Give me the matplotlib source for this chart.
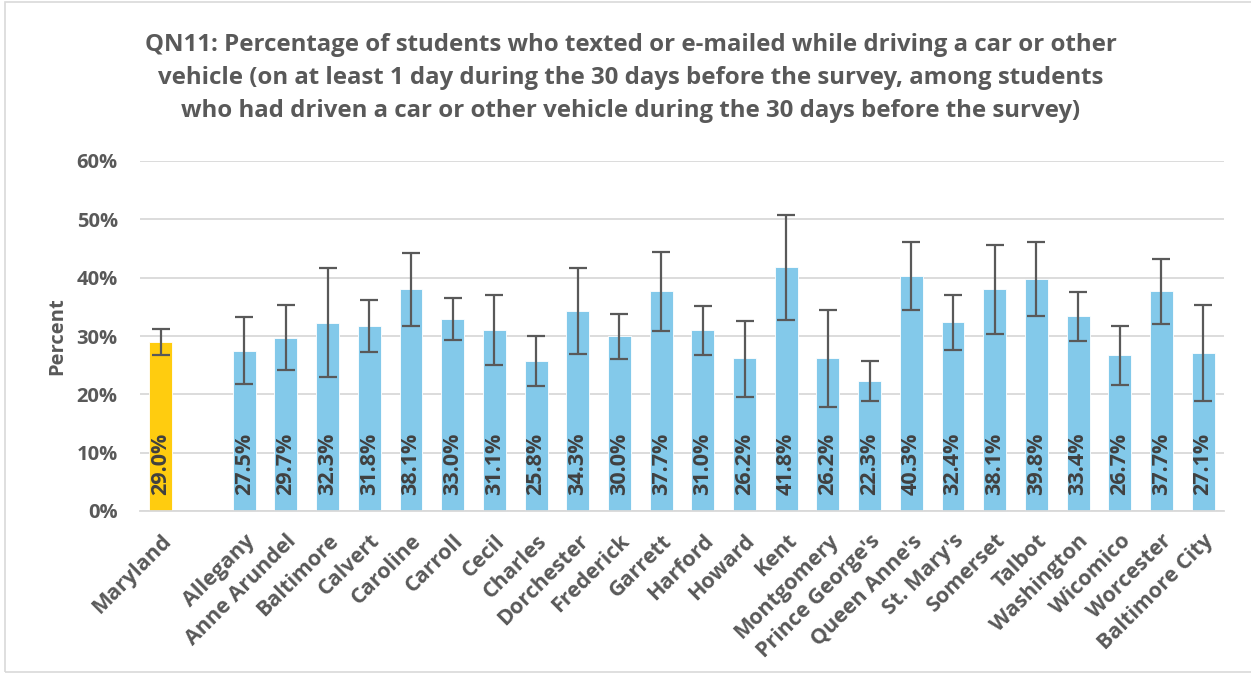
import numpy as np
import matplotlib
matplotlib.use("Agg")
from matplotlib import pyplot as plt
from matplotlib.patches import Rectangle

# data
areas = ["Maryland", "", "Allegany", "Anne Arundel", "Baltimore", "Calvert", "Caroline",
         "Carroll", "Cecil", "Charles", "Dorchester", "Frederick", "Garrett", "Harford",
         "Howard", "Kent", "Montgomery", "Prince George's", "Queen Anne's", "St. Mary's",
         "Somerset", "Talbot", "Washington", "Wicomico", "Worcester", "Baltimore City"]
pct = [29.0, np.nan, 27.5, 29.7, 32.3, 31.8, 38.1, 33.0, 31.1, 25.8, 34.3, 30.0, 37.7,
       31.0, 26.2, 41.8, 26.2, 22.3, 40.3, 32.4, 38.1, 39.8, 33.4, 26.7, 37.7, 27.1]
ci_low = [26.8, np.nan, 21.7, 24.1, 22.9, 27.3, 31.8, 29.4, 25.0, 21.4, 26.9, 26.1, 30.9,
          26.7, 19.6, 32.8, 17.8, 18.9, 34.4, 27.6, 30.4, 33.4, 29.2, 21.6, 32.1, 18.9]
ci_high = [31.2, np.nan, 33.2, 35.3, 41.7, 36.2, 44.3, 36.5, 37.0, 30.0, 41.6, 33.8, 44.4,
           35.2, 32.6, 50.7, 34.4, 25.7, 46.1, 37.1, 45.6, 46.2, 37.6, 31.7, 43.2, 35.3]
title_lines = ["QN11: Percentage of students who texted or e-mailed while driving a car or other",
               "vehicle (on at least 1 day during the 30 days before the survey, among students",
               "who had driven a car or other vehicle during the 30 days before the survey)"]

FONT = "Open Sans"
GREY = "#595959"

fig = plt.figure(figsize=(12.51, 6.74), dpi=100)
ax = fig.add_axes([140 / 1251, 1 - 511 / 674, 1084 / 1251, 350 / 674])

x = np.arange(len(areas))
p = np.array(pct)
colors = ["#FFCC0F"] + ["#83C9EA"] * (len(areas) - 1)
ax.bar(x, p, width=0.55, color=colors, edgecolor="white", linewidth=0.6, zorder=2)
yerr = np.vstack([p - np.array(ci_low), np.array(ci_high) - p])
ax.errorbar(x, p, yerr=yerr, fmt="none", ecolor="#595959", elinewidth=1.6,
            capsize=6.5, capthick=1.6, zorder=3)

for xi, v in zip(x, pct):
    if np.isnan(v):
        continue
    ax.text(xi, 2.7, f"{v:.1f}%", rotation=90, ha="center", va="bottom",
            fontsize=15.5, fontweight="bold", color="#404040", family=FONT, zorder=4)

ax.set_xlim(-0.5, len(areas) - 0.5)
ax.set_ylim(0, 60)
ax.set_yticks(range(0, 61, 10))
ax.set_yticklabels([f"{t}%" for t in range(0, 61, 10)], fontsize=14.5, fontweight="bold",
                   color=GREY, family=FONT)
ax.set_xticks(x)
ax.set_xticklabels(areas, rotation=45, ha="right", va="top", rotation_mode="anchor",
                   fontsize=15.5, fontweight="bold", color=GREY, family=FONT)
ax.tick_params(axis="both", length=0)
ax.tick_params(axis="y", pad=16)
ax.tick_params(axis="x", pad=14)
ax.set_ylabel("Percent", fontsize=14.5, fontweight="bold", color=GREY, family=FONT, labelpad=7)
ax.grid(axis="y", color="#d9d9d9", linewidth=1.3, zorder=0)
ax.set_axisbelow(True)
for s in ["top", "right", "left"]:
    ax.spines[s].set_visible(False)
ax.spines["bottom"].set_color("#d9d9d9")
ax.spines["bottom"].set_linewidth(1.3)

for i, line in enumerate(title_lines):
    fig.text(631 / 1251, 1 - (45 + 33 * i) / 674, line, ha="center", va="center",
             fontsize=17.3, fontweight="bold", color=GREY, family=FONT)

fig.patches.append(Rectangle((5 / 1251, 2 / 674), 1.1, 670 / 674, transform=fig.transFigure,
                             fill=False, edgecolor="#d9d9d9", linewidth=1.2))

fig.savefig("out.png", dpi=100)
